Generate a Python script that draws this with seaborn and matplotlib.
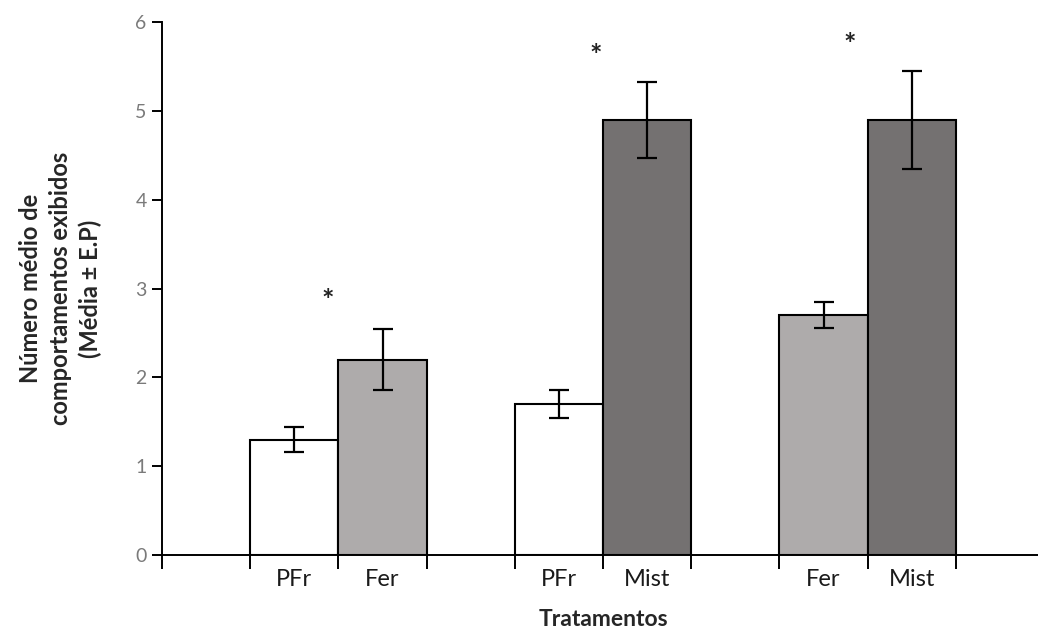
import matplotlib
matplotlib.use("Agg")
import matplotlib.pyplot as plt
import seaborn as sns
import pandas as pd

# Bar slots along the x axis (three pairs separated by empty slots)
slot_ids = [f"s{i}" for i in range(10)]
bar_slots = ["s1", "s2", "s4", "s5", "s7", "s8"]
treatments = ["PFr", "Fer", "PFr", "Mist", "Fer", "Mist"]
means = [1.3, 2.2, 1.7, 4.9, 2.7, 4.9]
errors = [0.14, 0.34, 0.16, 0.43, 0.15, 0.55]

# Significance markers: (slot position, height)
star_x = [1.38, 4.42, 7.30]
star_y = [2.86, 5.62, 5.74]

y_ticks = [0, 1, 2, 3, 4, 5, 6]

colors = {"PFr": "#FFFFFF", "Fer": "#AEAAAA", "Mist": "#757070"}

df = pd.DataFrame({"slot": bar_slots, "tratamento": treatments, "media": means})

sns.set_theme(style="white")
plt.rcParams["font.family"] = ["Lato", "DejaVu Sans"]

fig = plt.figure(figsize=(10.38, 6.30), dpi=100)
ax = fig.add_axes([162 / 1038, 1 - 555 / 630, 882 / 1038, (555 - 22) / 630])

sns.barplot(data=df, x="slot", y="media", hue="tratamento", order=slot_ids,
            palette=colors, dodge=False, width=1.0, edgecolor="black",
            linewidth=1.5, errorbar=None, legend=False, ax=ax)

pos = [slot_ids.index(s) for s in bar_slots]
ax.errorbar(pos, means, yerr=errors, fmt="none", ecolor="black",
            elinewidth=1.6, capsize=7, capthick=1.6)

for x, y in zip(star_x, star_y):
    ax.text(x, y, "*", ha="center", va="center", fontsize=21,
            fontweight="bold", color="#222222")

ax.set_xlim(-0.5, 9.5)
ax.set_ylim(0, 6)
ax.set_yticks(y_ticks)
ax.set_yticklabels([str(t) for t in y_ticks], color="#7a7a7a", fontsize=14)

# Tick marks at slot boundaries, labels centred under each bar
ax.set_xticks([i - 0.5 for i in range(11)])
ax.set_xticklabels([""] * 11)
ax.set_xticks(pos, minor=True)
ax.set_xticklabels(treatments, minor=True, fontsize=17, color="#1a1a1a")
ax.tick_params(axis="x", which="major", direction="out", length=10, width=1.4,
               color="black", bottom=True)
ax.tick_params(axis="x", which="minor", length=0, pad=10)
ax.tick_params(axis="y", direction="out", length=7, width=1.4, color="black",
               left=True, pad=4)

for side in ["top", "right"]:
    ax.spines[side].set_visible(False)
for side in ["left", "bottom"]:
    ax.spines[side].set_color("black")
    ax.spines[side].set_linewidth(1.4)

ax.set_xlabel("Tratamentos", fontsize=16.5, fontweight="bold", labelpad=14)
ax.set_ylabel("Número médio de\ncomportamentos exibidos\n(Média ± E.P)",
              fontsize=17, fontweight="bold", linespacing=1.35)
ax.yaxis.set_label_coords(-0.068, 0.5)

fig.savefig("out.png", dpi=100)
